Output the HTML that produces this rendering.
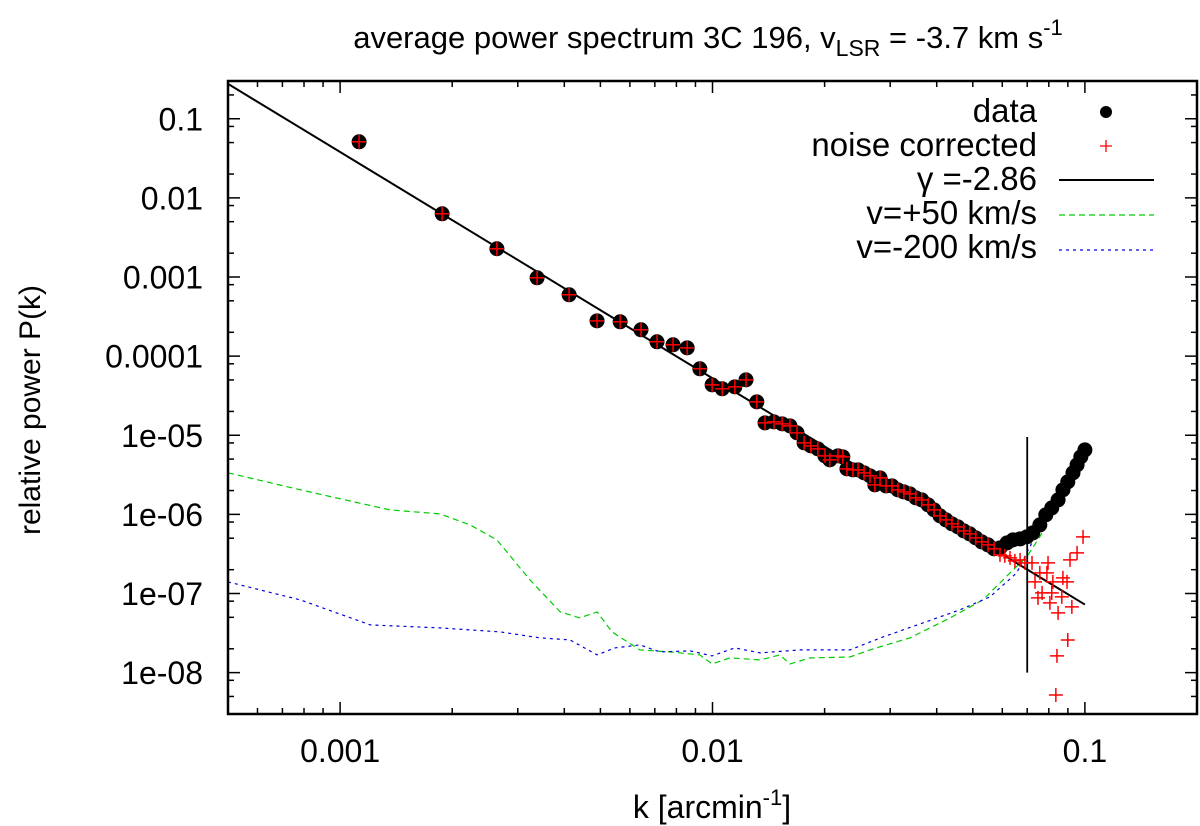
<!DOCTYPE html>
<html><head><meta charset="utf-8">
<style>
html,body{margin:0;padding:0;background:#fff;}
svg{display:block;font-family:"Liberation Sans",sans-serif;}
</style></head>
<body>
<svg id="chart" width="1200" height="826" viewBox="0 0 1200 826" xmlns="http://www.w3.org/2000/svg">
<text x="708" y="48" text-anchor="middle" font-size="31">average power spectrum 3C 196, v<tspan font-size="23" dy="8">LSR</tspan><tspan dy="-8"> = -3.7 km s</tspan><tspan font-size="22" dy="-13">-1</tspan></text>
<text transform="translate(40,410) rotate(-90)" text-anchor="middle" font-size="30">relative power P(k)</text>
<text x="712" y="818" text-anchor="middle" font-size="32">k [arcmin<tspan font-size="22" dy="-13">-1</tspan><tspan dy="13">]</tspan></text>
<g id="plot"></g>
<g id="legend"></g>
</svg>
<script>
// data (log10 values)
const dataLogK = [-2.949,-2.726,-2.579,-2.471,-2.385,-2.310,-2.248,-2.192,-2.149,-2.106,-2.068,-2.034,-2.001,-1.974,-1.940,-1.910,-1.881,
-1.859,-1.835,-1.813,-1.792,-1.773,-1.754,-1.736,-1.717,-1.698,-1.685,-1.663,-1.650,-1.639,-1.623,-1.609,-1.593,-1.577,-1.564,-1.550,-1.534,-1.518,-1.502,-1.486,-1.470,-1.454,-1.438,-1.421,-1.405,-1.389,-1.373,-1.357,-1.341,-1.325,-1.309,-1.293,-1.277,-1.260,-1.244,
-1.228,-1.209,-1.193,-1.174,-1.156,-1.140,-1.121,-1.105,-1.089,-1.072,-1.059,-1.046,-1.032,-1.021,-1.011,-1.000];
const dataLogP = [-1.291,-2.201,-2.643,-3.010,-3.225,-3.554,-3.566,-3.667,-3.819,-3.857,-3.895,-4.160,-4.363,-4.413,-4.388,-4.300,-4.578,
-4.843,-4.831,-4.856,-4.881,-4.970,-5.096,-5.134,-5.172,-5.260,-5.311,-5.260,-5.273,-5.425,-5.437,-5.437,-5.475,-5.513,-5.627,-5.539,-5.640,-5.640,-5.690,-5.716,-5.741,-5.791,-5.817,-5.880,-5.943,-6.019,-6.070,-6.120,-6.158,-6.209,-6.247,-6.297,-6.348,-6.386,-6.436,
-6.424,-6.360,-6.322,-6.310,-6.284,-6.234,-6.133,-6.006,-5.918,-5.817,-5.690,-5.589,-5.475,-5.374,-5.273,-5.185];
const sharedCount = 55;
const corrLogK = [-1.228,-1.215,-1.201,-1.188,-1.174,-1.161,-1.142,-1.134,-1.126,-1.121,-1.115,-1.102,-1.099,-1.094,-1.089,-1.086,-1.078,-1.075,-1.072,-1.062,-1.059,-1.048,-1.046,-1.040,-1.035,-1.021,-1.005];
const corrLogP = [-6.512,-6.525,-6.550,-6.588,-6.575,-6.613,-6.613,-6.853,-7.056,-6.740,-6.992,-6.740,-6.613,-7.119,-6.992,-6.853,-8.282,-7.789,-7.245,-7.043,-6.803,-6.853,-7.587,-6.575,-7.169,-6.487,-6.284];
const fitGamma = -2.86, fitLogA = -10.0, fitKMin = 0.0005, fitKMax = 0.1;
const greenLogK = [-3.301,-3.107,-2.866,-2.732,-2.651,-2.579,-2.490,-2.409,-2.356,-2.310,-2.270,-2.195,-2.114,-2.034,-2.001,-1.953,-1.872,-1.819,-1.792,-1.738,-1.631,-1.577,-1.470,-1.362,-1.274,-1.201,-1.156,-1.121,-1.086,-1.048,-1.005];
const greenLogP = [-5.475,-5.690,-5.943,-5.994,-6.133,-6.322,-6.828,-7.233,-7.308,-7.233,-7.485,-7.713,-7.738,-7.776,-7.890,-7.814,-7.839,-7.776,-7.890,-7.814,-7.802,-7.713,-7.561,-7.308,-7.081,-6.740,-6.537,-6.284,-5.981,-5.690,-5.185];
const blueLogK = [-3.301,-3.107,-2.919,-2.732,-2.570,-2.463,-2.383,-2.310,-2.262,-2.195,-2.141,-2.060,-2.001,-1.940,-1.872,-1.765,-1.631,-1.542,-1.435,-1.336,-1.255,-1.183,-1.148,-1.113,-1.067,-1.005];
const blueLogP = [-6.853,-7.081,-7.397,-7.435,-7.485,-7.561,-7.587,-7.776,-7.688,-7.650,-7.738,-7.726,-7.789,-7.688,-7.751,-7.713,-7.713,-7.549,-7.372,-7.207,-7.043,-6.740,-6.411,-6.107,-5.753,-5.185];
const cutK = 0.07, cutPTop = 9.5e-6, cutPBottom = 1e-8;
const xTickLabels = ["0.001","0.01","0.1"];
const xTickValues = [0.001,0.01,0.1];
const yTickLabels = ["0.1","0.01","0.001","0.0001","1e-05","1e-06","1e-07","1e-08"];
const yTickValues = [1e-1,1e-2,1e-3,1e-4,1e-5,1e-6,1e-7,1e-8];

const NS="http://www.w3.org/2000/svg";
const L=228,R=1197,T=81,B=714;
const xMin=Math.log10(0.0005), xMax=Math.log10(0.2);
const yMin=Math.log10(3e-9), yMax=Math.log10(0.3);
const xl=v=>L+(v-xMin)/(xMax-xMin)*(R-L);
const yl=v=>B-(v-yMin)/(yMax-yMin)*(B-T);
const X=k=>xl(Math.log10(k)), Y=p=>yl(Math.log10(p));
const plot=document.getElementById('plot');
const leg=document.getElementById('legend');
function mk(tag,attrs,parent){const e=document.createElementNS(NS,tag);for(const a in attrs)e.setAttribute(a,attrs[a]);(parent||plot).appendChild(e);return e;}

const defs=mk('defs',{});
const cp=mk('clipPath',{id:'clip'},defs);
mk('rect',{x:L,y:T,width:R-L,height:B-T},cp);

const tg=mk('g',{stroke:'#000','stroke-width':1.5});


for(let d=-4;d<=0;d++){for(let m=1;m<=9;m++){const v=d+Math.log10(m);if(v<xMin-1e-6||v>xMax+1e-6)continue;const x=xl(v);const len=m===1?12:6;
mk('line',{x1:x,y1:B,x2:x,y2:B-len},tg);mk('line',{x1:x,y1:T,x2:x,y2:T+len},tg);}}
for(let d=-9;d<=0;d++){for(const m of [1,2,5,8]){const v=d+Math.log10(m);if(v<yMin-1e-6||v>yMax+1e-6)continue;const y=yl(v);const len=m===1?12:6;
mk('line',{x1:L,y1:y,x2:L+len,y2:y},tg);mk('line',{x1:R,y1:y,x2:R-len,y2:y},tg);}}
xTickValues.forEach((v,i)=>{const t=mk('text',{x:X(v),y:B+48,'text-anchor':'middle','font-size':32});t.textContent=xTickLabels[i];

});
yTickValues.forEach((v,i)=>{const t=mk('text',{x:203,y:Y(v)+11.5,'text-anchor':'end','font-size':32});t.textContent=yTickLabels[i];

});

const cg=mk('g',{'clip-path':'url(#clip)'});
const path=(lk,lp)=>lk.map((k,i)=>(i?'L':'M')+xl(k).toFixed(1)+' '+yl(lp[i]).toFixed(1)).join(' ');
const gl=mk('path',{d:path(greenLogK,greenLogP),fill:'none',stroke:'#00cc00','stroke-width':1.2,'stroke-dasharray':'6,4'},cg);


const bl=mk('path',{d:path(blueLogK,blueLogP),fill:'none',stroke:'#0000dd','stroke-width':1.2,'stroke-dasharray':'3,4'},cg);


const fit=mk('line',{x1:X(fitKMin),y1:yl(fitLogA+fitGamma*Math.log10(fitKMin)),x2:X(fitKMax),y2:yl(fitLogA+fitGamma*Math.log10(fitKMax)),stroke:'#000','stroke-width':2},cg);


const cut=mk('line',{x1:X(cutK),y1:Y(cutPTop),x2:X(cutK),y2:Y(cutPBottom),stroke:'#000','stroke-width':1.8},cg);


dataLogK.forEach((k,i)=>{const c=mk('circle',{cx:xl(k),cy:yl(dataLogP[i]),r:7.5,fill:'#000'},cg);

});
function cross(x,y){const g=mk('path',{d:`M${x-7} ${y}H${x+7}M${x} ${y-7}V${y+7}`,stroke:'#ff0000','stroke-width':1.5,fill:'none'},cg);

}
for(let i=0;i<sharedCount;i++)cross(xl(dataLogK[i]),yl(dataLogP[i]));
corrLogK.forEach((k,i)=>cross(xl(k),yl(corrLogP[i])));

const fr=mk('rect',{x:L,y:T,width:R-L,height:B-T,fill:'none',stroke:'#000','stroke-width':2.5});



const rows=[["data",122],["noise corrected",156],["γ =-2.86 ",190],["v=+50 km/s",224],["v=-200 km/s",258]];
rows.forEach((r,i)=>{const t=mk('text',{x:1037,y:r[1],'text-anchor':'end','font-size':33},leg);t.textContent=r[0];

});
mk('circle',{cx:1106,cy:112,r:6,fill:'#000'},leg);
mk('path',{d:'M1100 146H1112M1106 140V152',stroke:'#ff0000','stroke-width':1.3},leg);
mk('line',{x1:1059,y1:180,x2:1154,y2:180,stroke:'#000','stroke-width':2},leg);
mk('line',{x1:1059,y1:215,x2:1154,y2:215,stroke:'#00cc00','stroke-width':1.2,'stroke-dasharray':'6,4'},leg);
mk('line',{x1:1059,y1:250,x2:1154,y2:250,stroke:'#0000dd','stroke-width':1.2,'stroke-dasharray':'3,4'},leg);
</script>
</body></html>
